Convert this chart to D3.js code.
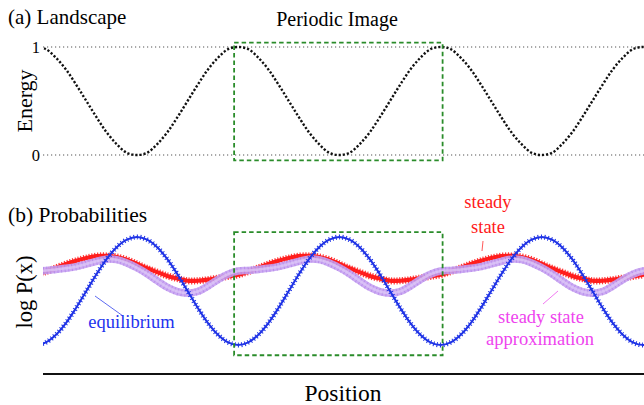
<!DOCTYPE html>
<html><head><meta charset="utf-8">
<script src="https://cdn.jsdelivr.net/npm/d3@7"></script>
<style>
html,body{margin:0;padding:0;background:#fff;}
</style></head>
<body>
<svg id="chart" width="644" height="405"></svg>
<script>
// ---------- data (position in periods, sampled every 0.05) ----------
const positions = d3.range(0, 62).map(i => +(i * 0.05).toFixed(2));
const energy = [1,.98,.90,.79,.65,.50,.35,.21,.10,.02,0,.02,.10,.21,.35,.50,.65,.79,.90,.98,
                1,.98,.90,.79,.65,.50,.35,.21,.10,.02,0,.02,.10,.21,.35,.50,.65,.79,.90,.98,
                1,.98,.90,.79,.65,.50,.35,.21,.10,.02,0,.02,.10,.21,.35,.50,.65,.79,.90,.98,
                1,.98];
const equilibrium = [-1,-.95,-.81,-.59,-.31,0,.31,.59,.81,.95,1,.95,.81,.59,.31,0,-.31,-.59,-.81,-.95,
                     -1,-.95,-.81,-.59,-.31,0,.31,.59,.81,.95,1,.95,.81,.59,.31,0,-.31,-.59,-.81,-.95,
                     -1,-.95,-.81,-.59,-.31,0,.31,.59,.81,.95,1,.95,.81,.59,.31,0,-.31,-.59,-.81,-.95,
                     -1,-.95];
const steadyState = [.30,.36,.43,.50,.56,.61,.645,.65,.63,.58,.50,.42,.35,.28,.23,.19,.19,.21,.24,.27,
                     .30,.36,.43,.50,.56,.61,.645,.65,.63,.58,.50,.42,.35,.28,.23,.19,.19,.21,.24,.27,
                     .30,.36,.43,.50,.56,.61,.645,.65,.63,.58,.50,.42,.35,.28,.23,.19,.19,.21,.24,.27,
                     .30,.36];
const steadyApprox = [.37,.38,.40,.42,.45,.50,.55,.59,.58,.52,.43,.32,.19,.07,-.01,-.04,-.01,.09,.21,.31,
                      .37,.38,.40,.42,.45,.50,.55,.59,.58,.52,.43,.32,.19,.07,-.01,-.04,-.01,.09,.21,.31,
                      .37,.38,.40,.42,.45,.50,.55,.59,.58,.52,.43,.32,.19,.07,-.01,-.04,-.01,.09,.21,.31,
                      .37,.38];
const energyTicks = [0, 1];
const energyTickLabels = ["0", "1"];
const boxPositions = [0.98, 2.01];
const boxEnergy = [-0.05, 1.04];
const boxLogP = [-1.19, 1.09];

// ---------- layout ----------
const FONT = "Liberation Serif";
const svg = d3.select("#chart");
const x = d3.scaleLinear().domain([0, 3]).range([35.75, 643]);
const yTop = d3.scaleLinear().domain([0, 1]).range([155, 47]);
const yBot = d3.scaleLinear().domain([-1, 1]).range([345, 237]);
const x0 = 43, x1 = 644;

function label(px, py, str, size, opts = {}) {
  const t = svg.append("text").attr("font-family", FONT).attr("font-size", size)
    .attr("fill", opts.fill || "#000").attr("text-anchor", opts.anchor || "start");
  if (opts.rotate) t.attr("transform", `translate(${px},${py}) rotate(-90)`);
  else t.attr("x", px).attr("y", py);
  return t.text(str);
}

svg.append("clipPath").attr("id", "clip")
  .append("rect").attr("x", x0).attr("y", 0).attr("width", x1 - x0).attr("height", 405);

const zipped = arr => positions.map((p, i) => [p, arr[i]]);
const lineTop = d3.line().x(d => x(d[0])).y(d => yTop(d[1])).curve(d3.curveCatmullRom);
const lineBot = d3.line().x(d => x(d[0])).y(d => yBot(d[1])).curve(d3.curveCatmullRom);

// ---------- top panel ----------
const gTop = svg.append("g");
energyTicks.forEach((t, i) => {
  gTop.append("line").attr("x1", x0).attr("x2", x1)
    .attr("y1", yTop(t)).attr("y2", yTop(t))
    .attr("stroke", "#555").attr("stroke-width", 1.2).attr("stroke-dasharray", "1.2,2.8");
  label(40, yTop(t) + 5.5, energyTickLabels[i], 16.5, {anchor: "end"});
});
gTop.append("path").datum(zipped(energy)).attr("d", lineTop)
  .attr("clip-path", "url(#clip)")
  .attr("fill", "none").attr("stroke", "#111").attr("stroke-width", 2.4)
  .attr("stroke-dasharray", "2.2,1.9");

gTop.append("rect")
  .attr("x", x(boxPositions[0])).attr("y", yTop(boxEnergy[1]))
  .attr("width", x(boxPositions[1]) - x(boxPositions[0]))
  .attr("height", yTop(boxEnergy[0]) - yTop(boxEnergy[1]))
  .attr("fill", "none").attr("stroke", "#2a8c2a").attr("stroke-width", 1.8)
  .attr("stroke-dasharray", "4.5,3");

label(8, 24, "(a) Landscape", 21);
label(337, 26, "Periodic Image", 20, {anchor: "middle"});
label(32, 101, "Energy", 22, {anchor: "middle", rotate: true});

// ---------- bottom panel ----------
const gBot = svg.append("g").attr("clip-path", "url(#clip)");
// steady state (red x markers)
gBot.append("path").datum(zipped(steadyState)).attr("d", lineBot)
  .attr("fill", "none").attr("stroke", "#ff2020").attr("stroke-width", 4.2);
gBot.append("path").datum(zipped(steadyState)).attr("d", lineBot)
  .attr("fill", "none").attr("stroke", "#ff1a1a").attr("stroke-width", 7)
  .attr("stroke-dasharray", "1.2,1.6").attr("opacity", 0.85);
// steady state approximation (purple squares)
gBot.append("path").datum(zipped(steadyApprox)).attr("d", lineBot)
  .attr("fill", "none").attr("stroke", "#c7a2f2").attr("stroke-width", 7.5).attr("opacity", 0.9);
gBot.append("path").datum(zipped(steadyApprox)).attr("d", lineBot)
  .attr("fill", "none").attr("stroke", "#a774e6").attr("stroke-width", 7.5)
  .attr("stroke-dasharray", "1,2.6").attr("opacity", 0.5);
gBot.append("path").datum(zipped(steadyApprox)).attr("d", lineBot)
  .attr("fill", "none").attr("stroke", "#e0ccf8").attr("stroke-width", 2.5).attr("opacity", 0.7);
// equilibrium (blue + markers)
gBot.append("path").datum(zipped(equilibrium)).attr("d", lineBot)
  .attr("fill", "none").attr("stroke", "#1f33e6").attr("stroke-width", 2);
gBot.append("path").datum(zipped(equilibrium)).attr("d", lineBot)
  .attr("fill", "none").attr("stroke", "#1f33e6").attr("stroke-width", 5)
  .attr("stroke-dasharray", "1,2.4");

svg.append("rect")
  .attr("x", x(boxPositions[0])).attr("y", yBot(boxLogP[1]))
  .attr("width", x(boxPositions[1]) - x(boxPositions[0]))
  .attr("height", yBot(boxLogP[0]) - yBot(boxLogP[1]))
  .attr("fill", "none").attr("stroke", "#2a8c2a").attr("stroke-width", 1.8)
  .attr("stroke-dasharray", "4.5,3");

// axis line
svg.append("line").attr("x1", x0).attr("x2", x1).attr("y1", 374).attr("y2", 374)
  .attr("stroke", "#111").attr("stroke-width", 2.2);
label(343, 401, "Position", 23.5, {anchor: "middle"});

label(8, 222, "(b) Probabilities", 21.5);
label(32, 292, "log P(x)", 22.5, {anchor: "middle", rotate: true});

// annotations
svg.append("line").attr("x1", 95).attr("y1", 296).attr("x2", 123).attr("y2", 316)
  .attr("stroke", "#3344ee").attr("stroke-width", 0.8);
label(131.5, 327.5, "equilibrium", 18.5, {anchor: "middle", fill: "#2233ee"});

svg.append("line").attr("x1", 483).attr("y1", 241).attr("x2", 482).attr("y2", 251)
  .attr("stroke", "#ff3030").attr("stroke-width", 0.8);
label(488, 208, "steady", 18.5, {anchor: "middle", fill: "#ff1a1a"});
label(488, 232.5, "state", 18.5, {anchor: "middle", fill: "#ff1a1a"});

svg.append("line").attr("x1", 558).attr("y1", 291).attr("x2", 543).attr("y2", 304)
  .attr("stroke", "#ee55ee").attr("stroke-width", 0.8);
label(541, 323, "steady state", 18.5, {anchor: "middle", fill: "#ee44ee"});
label(540, 344.5, "approximation", 18.5, {anchor: "middle", fill: "#ee44ee"});
</script>
</body></html>
